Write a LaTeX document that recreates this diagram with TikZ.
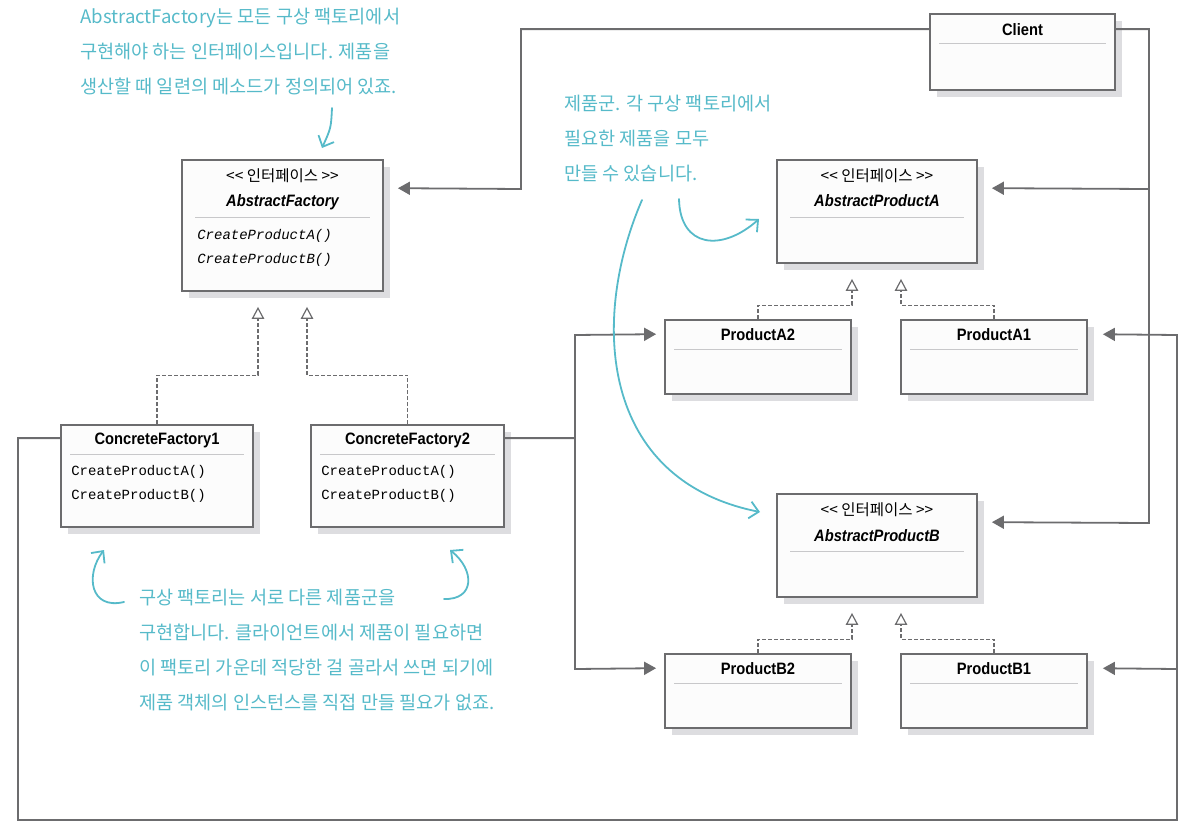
\documentclass[tikz,border=0pt]{standalone}
\usepackage{fontspec}
\setmainfont{Liberation Sans}
\newfontfamily\boxfont{Liberation Sans}[FakeStretch=0.89]
\newfontfamily\methodfont{Liberation Mono}
\newfontfamily\krfont{Noto Sans CJK KR}
\usetikzlibrary{arrows.meta, shadows}
\definecolor{linegray}{RGB}{108,108,110}
\definecolor{sepgray}{RGB}{200,200,202}
\definecolor{shadowgray}{RGB}{221,221,224}
\definecolor{boxfill}{RGB}{252,252,252}
\definecolor{noteteal}{RGB}{86,186,201}

\begin{document}
\begin{tikzpicture}[x=1pt, y=-1pt]
			\tikzstyle{every node}+=[inner sep=0pt]
			\tikzstyle{umlbox}=[draw=linegray, line width=1.8pt, fill=boxfill, drop shadow={shadow xshift=7pt, shadow yshift=-7pt, fill=shadowgray, opacity=1}]
			\tikzstyle{boxname}=[font=\boxfont\fontsize{16.5}{18}\selectfont\bfseries]
			\tikzstyle{abstractname}=[font=\boxfont\fontsize{16.5}{18}\selectfont\bfseries\itshape]
			\tikzstyle{stereo}=[font=\krfont\fontsize{15.5}{17}\selectfont]
			\tikzstyle{method}=[font=\methodfont\fontsize{14}{16}\selectfont, anchor=west]
			\tikzstyle{sepline}=[draw=sepgray, line width=1pt]
			\tikzstyle{conn}=[draw=linegray, line width=1.8pt]
			\tikzstyle{uses}=[conn, -{Triangle[length=12pt,width=13pt]}]
			\tikzstyle{realizes}=[draw=linegray, line width=1.2pt, dash pattern=on 4pt off 2pt, -{Triangle[length=12pt,width=12.5pt,fill=white]}, shorten >=15pt]
			\tikzstyle{note}=[text=noteteal, font=\krfont\fontsize{18.6}{34.7}\selectfont, align=left, anchor=base west]
			\tikzstyle{hand}=[draw=noteteal, line width=1.8pt, line cap=round, -{Straight Barb[length=9pt,width=17pt,line width=1.8pt]}]
			\useasboundingbox (0,0) rectangle (1200,836);
			\node[umlbox, minimum width=185pt, minimum height=76pt] (client) at (1022.5,52) {};
			\node[boxname] at ([yshift=-16.5pt]client.north) {Client};
			\draw[sepline] ([xshift=10pt,yshift=-30pt]client.north west) -- ([xshift=-10pt,yshift=-30pt]client.north east);
			\node[umlbox, minimum width=201pt, minimum height=131pt] (af) at (282.5,225.5) {};
			\node[stereo] at ([yshift=-17pt]af.north) {<\kern0pt< 인터페이스 >\kern0pt>};
			\node[abstractname] at ([yshift=-43pt]af.north) {AbstractFactory};
			\draw[sepline] ([xshift=14pt,yshift=-58pt]af.north west) -- ([xshift=-14pt,yshift=-58pt]af.north east);
			\node[method, font=\methodfont\itshape\fontsize{14}{16}\selectfont] at ([xshift=16pt,yshift=-77pt]af.north west) {CreateProductA()};
			\node[method, font=\methodfont\itshape\fontsize{14}{16}\selectfont] at ([xshift=16pt,yshift=-101pt]af.north west) {CreateProductB()};
			\node[umlbox, minimum width=200pt, minimum height=103pt] (apa) at (877,211.5) {};
			\node[stereo] at ([yshift=-17pt]apa.north) {<\kern0pt< 인터페이스 >\kern0pt>};
			\node[abstractname] at ([yshift=-42pt]apa.north) {AbstractProductA};
			\draw[sepline] ([xshift=14pt,yshift=-58pt]apa.north west) -- ([xshift=-14pt,yshift=-58pt]apa.north east);
			\node[umlbox, minimum width=200pt, minimum height=103pt] (apb) at (877,545.5) {};
			\node[stereo] at ([yshift=-17pt]apb.north) {<\kern0pt< 인터페이스 >\kern0pt>};
			\node[abstractname] at ([yshift=-42pt]apb.north) {AbstractProductB};
			\draw[sepline] ([xshift=14pt,yshift=-58pt]apb.north west) -- ([xshift=-14pt,yshift=-58pt]apb.north east);
			\node[umlbox, minimum width=186pt, minimum height=74pt] (pa2) at (758,357) {};
			\node[boxname] at ([yshift=-15.5pt]pa2.north) {ProductA2};
			\draw[sepline] ([xshift=10pt,yshift=-30pt]pa2.north west) -- ([xshift=-10pt,yshift=-30pt]pa2.north east);
			\node[umlbox, minimum width=186pt, minimum height=74pt] (pa1) at (994,357) {};
			\node[boxname] at ([yshift=-15.5pt]pa1.north) {ProductA1};
			\draw[sepline] ([xshift=10pt,yshift=-30pt]pa1.north west) -- ([xshift=-10pt,yshift=-30pt]pa1.north east);
			\node[umlbox, minimum width=186pt, minimum height=74pt] (pb2) at (758,691) {};
			\node[boxname] at ([yshift=-15.5pt]pb2.north) {ProductB2};
			\draw[sepline] ([xshift=10pt,yshift=-30pt]pb2.north west) -- ([xshift=-10pt,yshift=-30pt]pb2.north east);
			\node[umlbox, minimum width=186pt, minimum height=74pt] (pb1) at (994,691) {};
			\node[boxname] at ([yshift=-15.5pt]pb1.north) {ProductB1};
			\draw[sepline] ([xshift=10pt,yshift=-30pt]pb1.north west) -- ([xshift=-10pt,yshift=-30pt]pb1.north east);
			\node[umlbox, minimum width=192pt, minimum height=102pt] (cf1) at (157,476) {};
			\node[boxname] at ([yshift=-16pt]cf1.north) {ConcreteFactory1};
			\draw[sepline] ([xshift=10pt,yshift=-30pt]cf1.north west) -- ([xshift=-10pt,yshift=-30pt]cf1.north east);
			\node[method] at ([xshift=11pt,yshift=-48pt]cf1.north west) {CreateProductA()};
			\node[method] at ([xshift=11pt,yshift=-72pt]cf1.north west) {CreateProductB()};
			\node[umlbox, minimum width=193pt, minimum height=102pt] (cf2) at (407.5,476) {};
			\node[boxname] at ([yshift=-16pt]cf2.north) {ConcreteFactory2};
			\draw[sepline] ([xshift=10pt,yshift=-30pt]cf2.north west) -- ([xshift=-10pt,yshift=-30pt]cf2.north east);
			\node[method] at ([xshift=11pt,yshift=-48pt]cf2.north west) {CreateProductA()};
			\node[method] at ([xshift=11pt,yshift=-72pt]cf2.north west) {CreateProductB()};
			\draw[realizes] (pa2.north) -- ++(0,-14) -| ([xshift=-25pt]apa.south);
			\draw[realizes] (pa1.north) -- ++(0,-14) -| ([xshift=24pt]apa.south);
			\draw[realizes] (pb2.north) -- ++(0,-14) -| ([xshift=-25pt]apb.south);
			\draw[realizes] (pb1.north) -- ++(0,-14) -| ([xshift=24pt]apb.south);
			\draw[realizes] (cf1.north) -- ++(0,-49) -| ([xshift=-24.5pt]af.south);
			\draw[realizes] (cf2.north) -- ++(0,-49) -| ([xshift=24.5pt]af.south);
			\draw[uses, shorten >=14pt] ([yshift=-16pt]client.north west) -| (521,189) -- ([yshift=-29pt]af.north east);
			\draw[uses, shorten >=14pt] ([yshift=-16pt]client.north east) -| (1149,523) -- ([yshift=-29pt]apb.north east);
			\draw[uses, shorten >=14pt] (1149,189) -- ([yshift=-29pt]apa.north east);
			\draw[uses, shorten >=8pt] ([yshift=-14pt]cf2.north east) -| (575,335) -- ([yshift=-15pt]pa2.north west);
			\draw[uses, shorten >=8pt] (575,439) -- (575,669) -- ([yshift=-15pt]pb2.north west);
			\draw[uses, shorten >=15pt] ([yshift=-14pt]cf1.north west) -| (18,820) -| (1177,335) -- ([yshift=-15pt]pa1.north east);
			\draw[uses, shorten >=15pt] (1177,669) -- ([yshift=-15pt]pb1.north east);
			\node[note] (afnote) at (80,93) {AbstractFactory는 모든 구상 팩토리에서\\구현해야 하는 인터페이스입니다. 제품을\\생산할 때 일련의 메소드가 정의되어 있죠.};
			\node[note] (familynote) at (564,180) {제품군. 각 구상 팩토리에서\\필요한 제품을 모두\\만들 수 있습니다.};
			\node[note] (cfnote) at (139,709) {구상 팩토리는 서로 다른 제품군을\\구현합니다. 클라이언트에서 제품이 필요하면\\이 팩토리 가운데 적당한 걸 골라서 쓰면 되기에\\제품 객체의 인스턴스를 직접 만들 필요가 없죠.};
			\draw[hand] (332,108) .. controls (331,128) .. (322,148);
			\draw[hand] (679,199) .. controls (680,248) and (722,252) .. (759,219);
			\draw[hand] (642,200) .. controls (590,320) and (600,480) .. (760,512);
			\draw[hand] (124,602) .. controls (90,610) and (85,575) .. (104,550);
			\draw[hand] (444,599) .. controls (475,600) and (475,570) .. (450,550);
\end{tikzpicture}
\end{document}
